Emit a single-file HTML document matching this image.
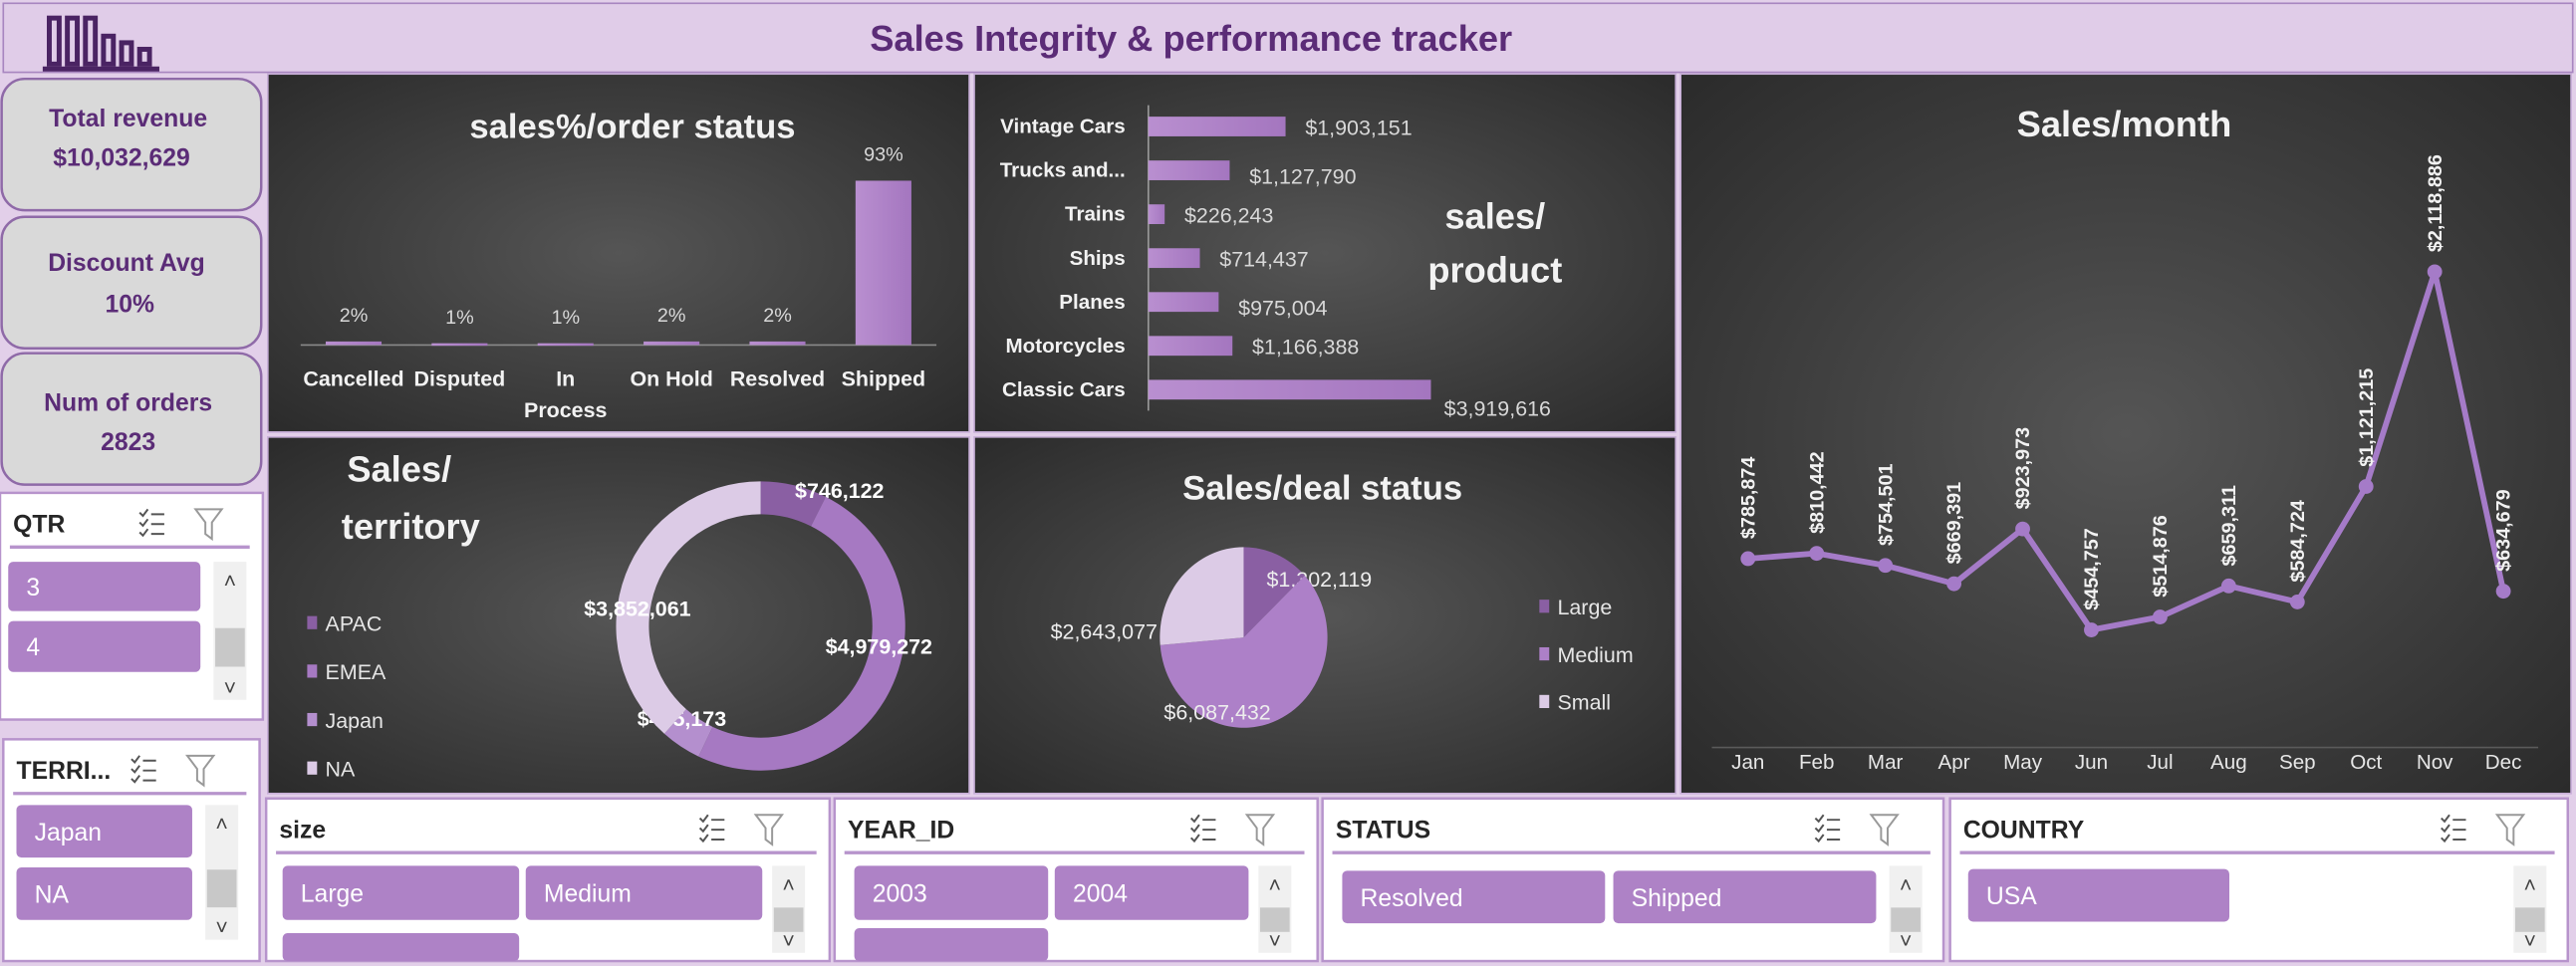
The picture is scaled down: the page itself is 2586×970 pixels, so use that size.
<!DOCTYPE html>
<html><head><meta charset="utf-8">
<style>
html,body{margin:0;padding:0;background:#e2cfe9;overflow:hidden}
svg{display:block;font-family:"Liberation Sans",sans-serif}
.t{font-family:"Liberation Sans",sans-serif}
</style></head>
<body>
<svg id="root" width="2586" height="970" viewBox="0 0 1568 588" preserveAspectRatio="none" xmlns="http://www.w3.org/2000/svg">
<defs>
<radialGradient id="pg" cx="50%" cy="50%" r="70%">
<stop offset="0" stop-color="#555555"/><stop offset="1" stop-color="#2b2b2b"/>
</radialGradient>
<linearGradient id="bg" x1="0" y1="0" x2="1" y2="0"><stop offset="0" stop-color="#b98fd0"/><stop offset="1" stop-color="#a476bf"/></linearGradient>
</defs>
<rect x="0" y="0" width="1568" height="588" fill="#e2cfe9"/>
<rect x="2" y="2" width="1564" height="42" fill="#e0cce8" stroke="#a886c0" stroke-width="1"/>
<g fill="none" stroke="#4a2363" stroke-width="3">
<rect x="30" y="11" width="6" height="28"/><rect x="41" y="11" width="6" height="28"/><rect x="52" y="11" width="6" height="28"/><rect x="63" y="22" width="6" height="17"/><rect x="74" y="26" width="6" height="13"/><rect x="85" y="30" width="6" height="9"/>
<line x1="26" y1="42" x2="97" y2="42"/>
</g>
<text x="725" y="31" text-anchor="middle" font-size="22" font-weight="bold" fill="#5b2c77">Sales Integrity &amp; performance tracker</text>

<!-- KPI cards -->
<g>
<rect x="1" y="48" width="158" height="80" rx="14" fill="#d9d9d9" stroke="#8f6aa8" stroke-width="1.5"/>
<text x="78" y="77" text-anchor="middle" font-size="15" font-weight="bold" fill="#5b2c77">Total revenue</text>
<text x="74" y="101" text-anchor="middle" font-size="15" font-weight="bold" fill="#5b2c77">$10,032,629</text></g>
<g>
<rect x="1" y="132" width="158" height="80" rx="14" fill="#d9d9d9" stroke="#8f6aa8" stroke-width="1.5"/>
<text x="77" y="165" text-anchor="middle" font-size="15" font-weight="bold" fill="#5b2c77">Discount Avg</text>
<text x="79" y="190" text-anchor="middle" font-size="15" font-weight="bold" fill="#5b2c77">10%</text></g>
<g>
<rect x="1" y="215" width="158" height="80" rx="14" fill="#d9d9d9" stroke="#8f6aa8" stroke-width="1.5"/>
<text x="78" y="250" text-anchor="middle" font-size="15" font-weight="bold" fill="#5b2c77">Num of orders</text>
<text x="78" y="274" text-anchor="middle" font-size="15" font-weight="bold" fill="#5b2c77">2823</text></g>

<!-- panels -->
<rect x="163" y="45" width="427" height="218" fill="url(#pg)" stroke="#c8afd8"/>
<rect x="593" y="45" width="427" height="218" fill="url(#pg)" stroke="#c8afd8"/>
<rect x="1023" y="45" width="542" height="438" fill="url(#pg)" stroke="#c8afd8"/>
<rect x="163" y="266" width="427" height="217" fill="url(#pg)" stroke="#c8afd8"/>
<rect x="593" y="266" width="427" height="217" fill="url(#pg)" stroke="#c8afd8"/>

<text x="385" y="84" text-anchor="middle" font-size="21" font-weight="bold" fill="#f2f2f2">sales%/order status</text>
<text x="910" y="139" text-anchor="middle" font-size="22" font-weight="bold" fill="#f2f2f2">sales/</text>
<text x="910" y="172" text-anchor="middle" font-size="22" font-weight="bold" fill="#f2f2f2">product</text>
<text x="1293" y="83" text-anchor="middle" font-size="22" font-weight="bold" fill="#f2f2f2">Sales/month</text>
<text x="243" y="293" text-anchor="middle" font-size="22" font-weight="bold" fill="#f2f2f2">Sales/</text>
<text x="250" y="328" text-anchor="middle" font-size="22" font-weight="bold" fill="#f2f2f2">territory</text>
<text x="805" y="304" text-anchor="middle" font-size="21" font-weight="bold" fill="#f2f2f2">Sales/deal status</text>

<g id="c1"></g><g id="c2"></g><g id="c3"></g><g id="c4"></g><g id="c5"></g><g id="slicers"></g>
</svg>
<script>
const NS='http://www.w3.org/2000/svg';
function mk(p,tag,a,txt){const e=document.createElementNS(NS,tag);for(const k in a)e.setAttribute(k,a[k]);if(txt!==undefined)e.textContent=txt;p.appendChild(e);return e;}
const fmt=v=>'$'+v.toLocaleString('en-US');

// order status chart
const statusCats=['Cancelled','Disputed','In Process','On Hold','Resolved','Shipped'];
const statusPct=[2,1,1,2,2,93];
// product chart
const productCats=['Vintage Cars','Trucks and...','Trains','Ships','Planes','Motorcycles','Classic Cars'];
const productSales=[1903151,1127790,226243,714437,975004,1166388,3919616];
// monthly chart
const months=['Jan','Feb','Mar','Apr','May','Jun','Jul','Aug','Sep','Oct','Nov','Dec'];
const monthSales=[785874,810442,754501,669391,923973,454757,514876,659311,584724,1121215,2118886,634679];
// territory
const territoryCats=['APAC','EMEA','Japan','NA'];
const territorySales=[746122,4979272,455173,3852061];
// deal size
const dealCats=['Large','Medium','Small'];
const dealSales=[1302119,6087432,2643077];

// chart 1
(function(){const g=document.getElementById('c1');
const base=210,x0=183,x1=570,step=(x1-x0)/statusCats.length,y=v=>base-v/93*100;
mk(g,'line',{x1:x0,y1:base,x2:x1,y2:base,stroke:'#8a8a8a','stroke-width':1});
statusCats.forEach((c,i)=>{const cx=x0+step*(i+0.5);
const b=mk(g,'rect',{x:cx-17,y:y(statusPct[i]),width:34,height:Math.max(1.5,base-y(statusPct[i])),fill:'url(#bg)'});


const l=mk(g,'text',{x:cx,y:y(statusPct[i])-12,'text-anchor':'middle','font-size':12,fill:'#d8d8d8'},statusPct[i]+'%');


const parts=c==='In Process'?['In','Process']:[c];
parts.forEach((p,j)=>{const t=mk(g,'text',{x:cx,y:235+j*19,'text-anchor':'middle','font-size':13,'font-weight':'bold',fill:'#f2f2f2'},p);

});
});})();

// chart 2
(function(){const g=document.getElementById('c2');
const ax=699,xs=v=>ax+v/3919616*172,top=77,step=26.7;
mk(g,'line',{x1:ax,y1:64,x2:ax,y2:250,stroke:'#999','stroke-width':1});
productCats.forEach((c,i)=>{const cy=top+step*i;
const b=mk(g,'rect',{x:ax,y:cy-6,width:xs(productSales[i])-ax,height:12,fill:'url(#bg)'});


const t=mk(g,'text',{x:685,y:cy+4,'text-anchor':'end','font-size':12.5,'font-weight':'bold',fill:'#f2f2f2'},c);


const dy=(i===productCats.length-1)?16:5;
const l=mk(g,'text',{x:xs(productSales[i])+(i===productCats.length-1?8:12),y:cy+dy+(i===1||i===4?3:0),'font-size':13,fill:'#d8d8d8'},fmt(productSales[i]));


});})();

// chart 3
(function(){const g=document.getElementById('c3');
const xs=i=>1064+i*41.8,ys=v=>443-v*1.31e-4;
mk(g,'line',{x1:1042,y1:455,x2:1545,y2:455,stroke:'#5a5a5a','stroke-width':1});
const pts=monthSales.map((v,i)=>xs(i)+','+ys(v)).join(' ');
const pl=mk(g,'polyline',{points:pts,fill:'none',stroke:'#a57bc8','stroke-width':3.5,'stroke-linejoin':'round'});


months.forEach((m,i)=>{const x=xs(i),y=ys(monthSales[i]);
const c=mk(g,'circle',{cx:x,cy:y,r:4.5,fill:'#a57bc8'});


const t=mk(g,'text',{x:1064+i*41.8,y:468,'text-anchor':'middle','font-size':12.5,fill:'#e6e6e6'},m);


const ly=y-12;
const l=mk(g,'text',{x:x+4,y:ly,'font-size':12,'font-weight':'bold',fill:'#f2f2f2',transform:'rotate(-90 '+(x+4)+' '+ly+')'},fmt(monthSales[i]));


});})();

// chart 4 donut
(function(){const g=document.getElementById('c4');
const cx=463,cy=381,R=88,r=68,tot=territorySales.reduce((a,b)=>a+b,0);
const cols=['#8a5fa3','#a679c2','#b48fce','#dccbe6'];
let a=0;const pt=(ang,rad)=>[cx+rad*Math.sin(ang),cy-rad*Math.cos(ang)];
const labPos=[[511,303],[535,398],[415,442],[388,375]];
territorySales.forEach((v,i)=>{const a2=a+v/tot*2*Math.PI;const L=(a2-a)>Math.PI?1:0;
const p1=pt(a,R),p2=pt(a2,R),p3=pt(a2,r),p4=pt(a,r);
const s=mk(g,'path',{d:`M${p1} A${R},${R} 0 ${L} 1 ${p2} L${p3} A${r},${r} 0 ${L} 0 ${p4}Z`,fill:cols[i]});


const l=mk(g,'text',{x:labPos[i][0],y:labPos[i][1],'text-anchor':'middle','font-size':13,'font-weight':'bold',fill:'#ffffff'},fmt(v));


a=a2;
const lg=mk(g,'g',{});


mk(lg,'rect',{x:187,y:375+i*29.5,width:6,height:8,fill:cols[i]});
mk(lg,'text',{x:198,y:384+i*29.5,'font-size':13,fill:'#e6e6e6'},territoryCats[i]);
});})();

// chart 5 pie
(function(){const g=document.getElementById('c5');
const cx=757,cy=388,rx=51,ry=55,tot=dealSales.reduce((a,b)=>a+b,0);
const cols=['#8a5fa3','#ad80c8','#dccbe6'];
const labPos=[[803,357],[741,438],[672,389]];
let a=0;const pt=ang=>[cx+rx*Math.sin(ang),cy-ry*Math.cos(ang)];
dealSales.forEach((v,i)=>{const a2=a+v/tot*2*Math.PI;const L=(a2-a)>Math.PI?1:0;
const s=mk(g,'path',{d:`M${cx},${cy} L${pt(a)} A${rx},${ry} 0 ${L} 1 ${pt(a2)}Z`,fill:cols[i]});


const l=mk(g,'text',{x:labPos[i][0],y:labPos[i][1],'text-anchor':'middle','font-size':13,fill:'#ededed'},fmt(v));


a=a2;
const lg=mk(g,'g',{});


mk(lg,'rect',{x:937,y:365+i*29,width:6,height:8,fill:cols[i]});
mk(lg,'text',{x:948,y:374+i*29,'font-size':13,fill:'#e6e6e6'},dealCats[i]);
});})();

// slicers
(function(){const g=document.getElementById('slicers');
function slicer(name,x,y,w,h,title,btns,sb,iconX){
const s=mk(g,'g',{});


mk(s,'rect',{x:x,y:y,width:w,height:h,fill:'#ffffff',stroke:'#b794cc','stroke-width':1.5});
mk(s,'text',{x:x+8,y:y+24,'font-size':15,'font-weight':'bold',fill:'#262626'},title);
mk(s,'line',{x1:x+6,y1:y+33,x2:x+w-8,y2:y+33,stroke:'#b794cc','stroke-width':2});
// icons
const ic=mk(s,'g',{stroke:'#555','stroke-width':1.2,fill:'none'});


for(let k=0;k<3;k++){mk(ic,'path',{d:`M${iconX} ${y+12+k*6} l2 2 l3 -4 M${iconX+7} ${y+13+k*6} h8`});}
const f=mk(s,'path',{d:`M${iconX+34} ${y+10} h16 l-6 8 v10 l-4 -3 v-7z`,fill:'none',stroke:'#999','stroke-width':1.2});


btns.forEach(b=>{const bb=mk(s,'g',{});


mk(bb,'rect',{x:b[1],y:b[2],width:b[3],height:b[4],rx:3,fill:'#ae82c6'});
if(b[0])mk(bb,'text',{x:b[1]+11,y:b[2]+b[4]/2+5.5,'font-size':15,fill:'#ffffff'},b[0]);});
const sc=mk(s,'g',{});


mk(sc,'rect',{x:sb[0],y:sb[1],width:20,height:sb[2],fill:'#f0f0f0'});
mk(sc,'rect',{x:sb[0]+1,y:sb[1]+sb[2]*0.48,width:18,height:sb[2]*0.28,fill:'#c8c8c8'});
mk(sc,'text',{x:sb[0]+10,y:sb[1]+16,'text-anchor':'middle','font-size':13,fill:'#444'},'˄');
mk(sc,'text',{x:sb[0]+10,y:sb[1]+sb[2]-3,'text-anchor':'middle','font-size':13,fill:'#444'},'˅');
}
slicer('qtr-slicer',0,300,160,138,'QTR',[['3',5,342,117,30],['4',5,378,117,31]],[130,342,84],85);
slicer('territory-slicer',2,450,156,135,'TERRI...',[['Japan',10,490,107,32],['NA',10,528,107,32]],[125,490,82],80);
slicer('size-slicer',162,486,343,99,'size',[['Large',172,527,144,33],['Medium',320,527,144,33],['',172,568,144,17]],[470,527,53],426);
slicer('year-slicer',508,486,294,99,'YEAR_ID',[['2003',520,527,118,33],['2004',642,527,118,33],['',520,565,118,20]],[766,527,53],725);
slicer('status-slicer',805,486,378,99,'STATUS',[['Resolved',817,530,160,32],['Shipped',982,530,160,32]],[1150,527,53],1105);
slicer('country-slicer',1187,486,376,99,'COUNTRY',[['USA',1198,529,159,32]],[1530,527,53],1486);
})();
</script>
</body></html>
